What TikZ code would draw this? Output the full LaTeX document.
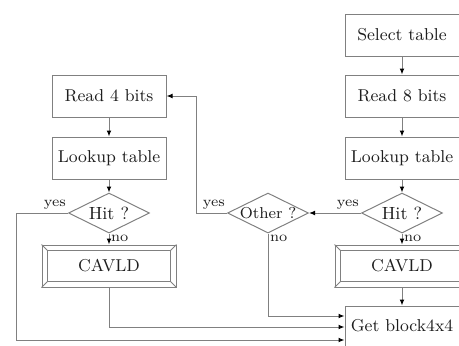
\documentclass[tikz,border=0pt]{standalone}
\usepackage{amsmath,amssymb}
\usetikzlibrary{positioning,calc,shapes.geometric,arrows.meta}
\definecolor{linegray}{HTML}{808080}
\definecolor{inkgray}{HTML}{1E1E1E}

\begin{document}
\begin{tikzpicture}[x=0.5pt, y=-0.5pt,
  stepbox/.style={draw=linegray, line width=0.5pt, minimum width=57pt, minimum height=21pt, inner sep=0pt, text=inkgray, font=\fontsize{8.6}{10}\selectfont},
  framebox/.style={stepbox, minimum width=67pt},
  test/.style={draw=linegray, line width=0.5pt, diamond, aspect=2, minimum width=40.5pt, minimum height=20pt, inner sep=0pt, text=inkgray, font=\fontsize{8.8}{10}\selectfont},
  lbl/.style={inner sep=0.8pt, text=inkgray, font=\fontsize{7.2}{8}\selectfont},
  flow/.style={draw=linegray, line width=0.5pt, -{Latex[length=3pt,width=2.4pt,color=black]}}]
\useasboundingbox (0,0) rectangle (459,345);

% right column
\node[stepbox] (sel) at (402,35) {Select table};
\node[stepbox] (r8) at (402,96) {Read 8 bits};
\node[stepbox] (lt8) at (402,158) {Lookup table};
\node[test] (hit8) at (402,213) {\makebox[0pt]{Hit ?}};
\node[framebox] (cav8) at (402,266) {CAVLD};
\node[stepbox, minimum height=20pt] (blk) at (402,326) {Get block4x4};

% left column
\node[stepbox] (r4) at (109,96) {Read 4 bits};
\node[stepbox] (lt4) at (109,158) {Lookup table};
\node[test] (hit4) at (109,213) {\makebox[0pt]{Hit ?}};
\node[framebox] (cav4) at (109,266) {CAVLD};

% middle test
\node[test, font=\fontsize{7.9}{9}\selectfont] (oth) at (268,213) {\makebox[0pt]{Other ?}};

% bevel frames
\foreach \c in {cav4,cav8} {
  \draw[linegray, line width=0.5pt] ($(\c.north west)+(3pt,-3pt)$) rectangle ($(\c.south east)+(-3pt,3pt)$);
  \draw[linegray, line width=0.4pt] (\c.north west) -- ++(3pt,-3pt);
  \draw[linegray, line width=0.4pt] (\c.north east) -- ++(-3pt,-3pt);
  \draw[linegray, line width=0.4pt] (\c.south west) -- ++(3pt,3pt);
  \draw[linegray, line width=0.4pt] (\c.south east) -- ++(-3pt,3pt);
}

\coordinate (backup) at (196,213);
\coordinate (outer) at (16,213);

\draw[flow] (sel) -- (r8);
\draw[flow] (r8) -- (lt8);
\draw[flow] (lt8) -- (hit8);
\draw[flow] (hit8) -- (cav8);
\draw[flow] (cav8) -- (blk);
\draw[flow] (hit8.west) -- (oth.east);
\draw[flow] (oth.west) -- (backup) |- (r4.east);
\draw[flow] (oth.south) |- ($(blk.west)+(0,-10)$);

\draw[flow] (r4) -- (lt4);
\draw[flow] (lt4) -- (hit4);
\draw[flow] (hit4) -- (cav4);
\draw[flow] (cav4.south) |- ($(blk.west)+(0,1)$);
\draw[flow] (hit4.west) -- (outer) |- ($(blk.west)+(0,14)$);

% branch labels
\node[lbl, above left, yshift=1pt] (yes8) at (hit8.west) {yes};
\node[lbl, below right] (no8) at (hit8.south) {no};
\node[lbl, above left, yshift=1pt] (yesoth) at (oth.west) {yes};
\node[lbl, below right] (nooth) at (oth.south) {no};
\node[lbl, above left, yshift=1pt] (yes4) at (hit4.west) {yes};
\node[lbl, below right] (no4) at (hit4.south) {no};
\end{tikzpicture}
\end{document}
